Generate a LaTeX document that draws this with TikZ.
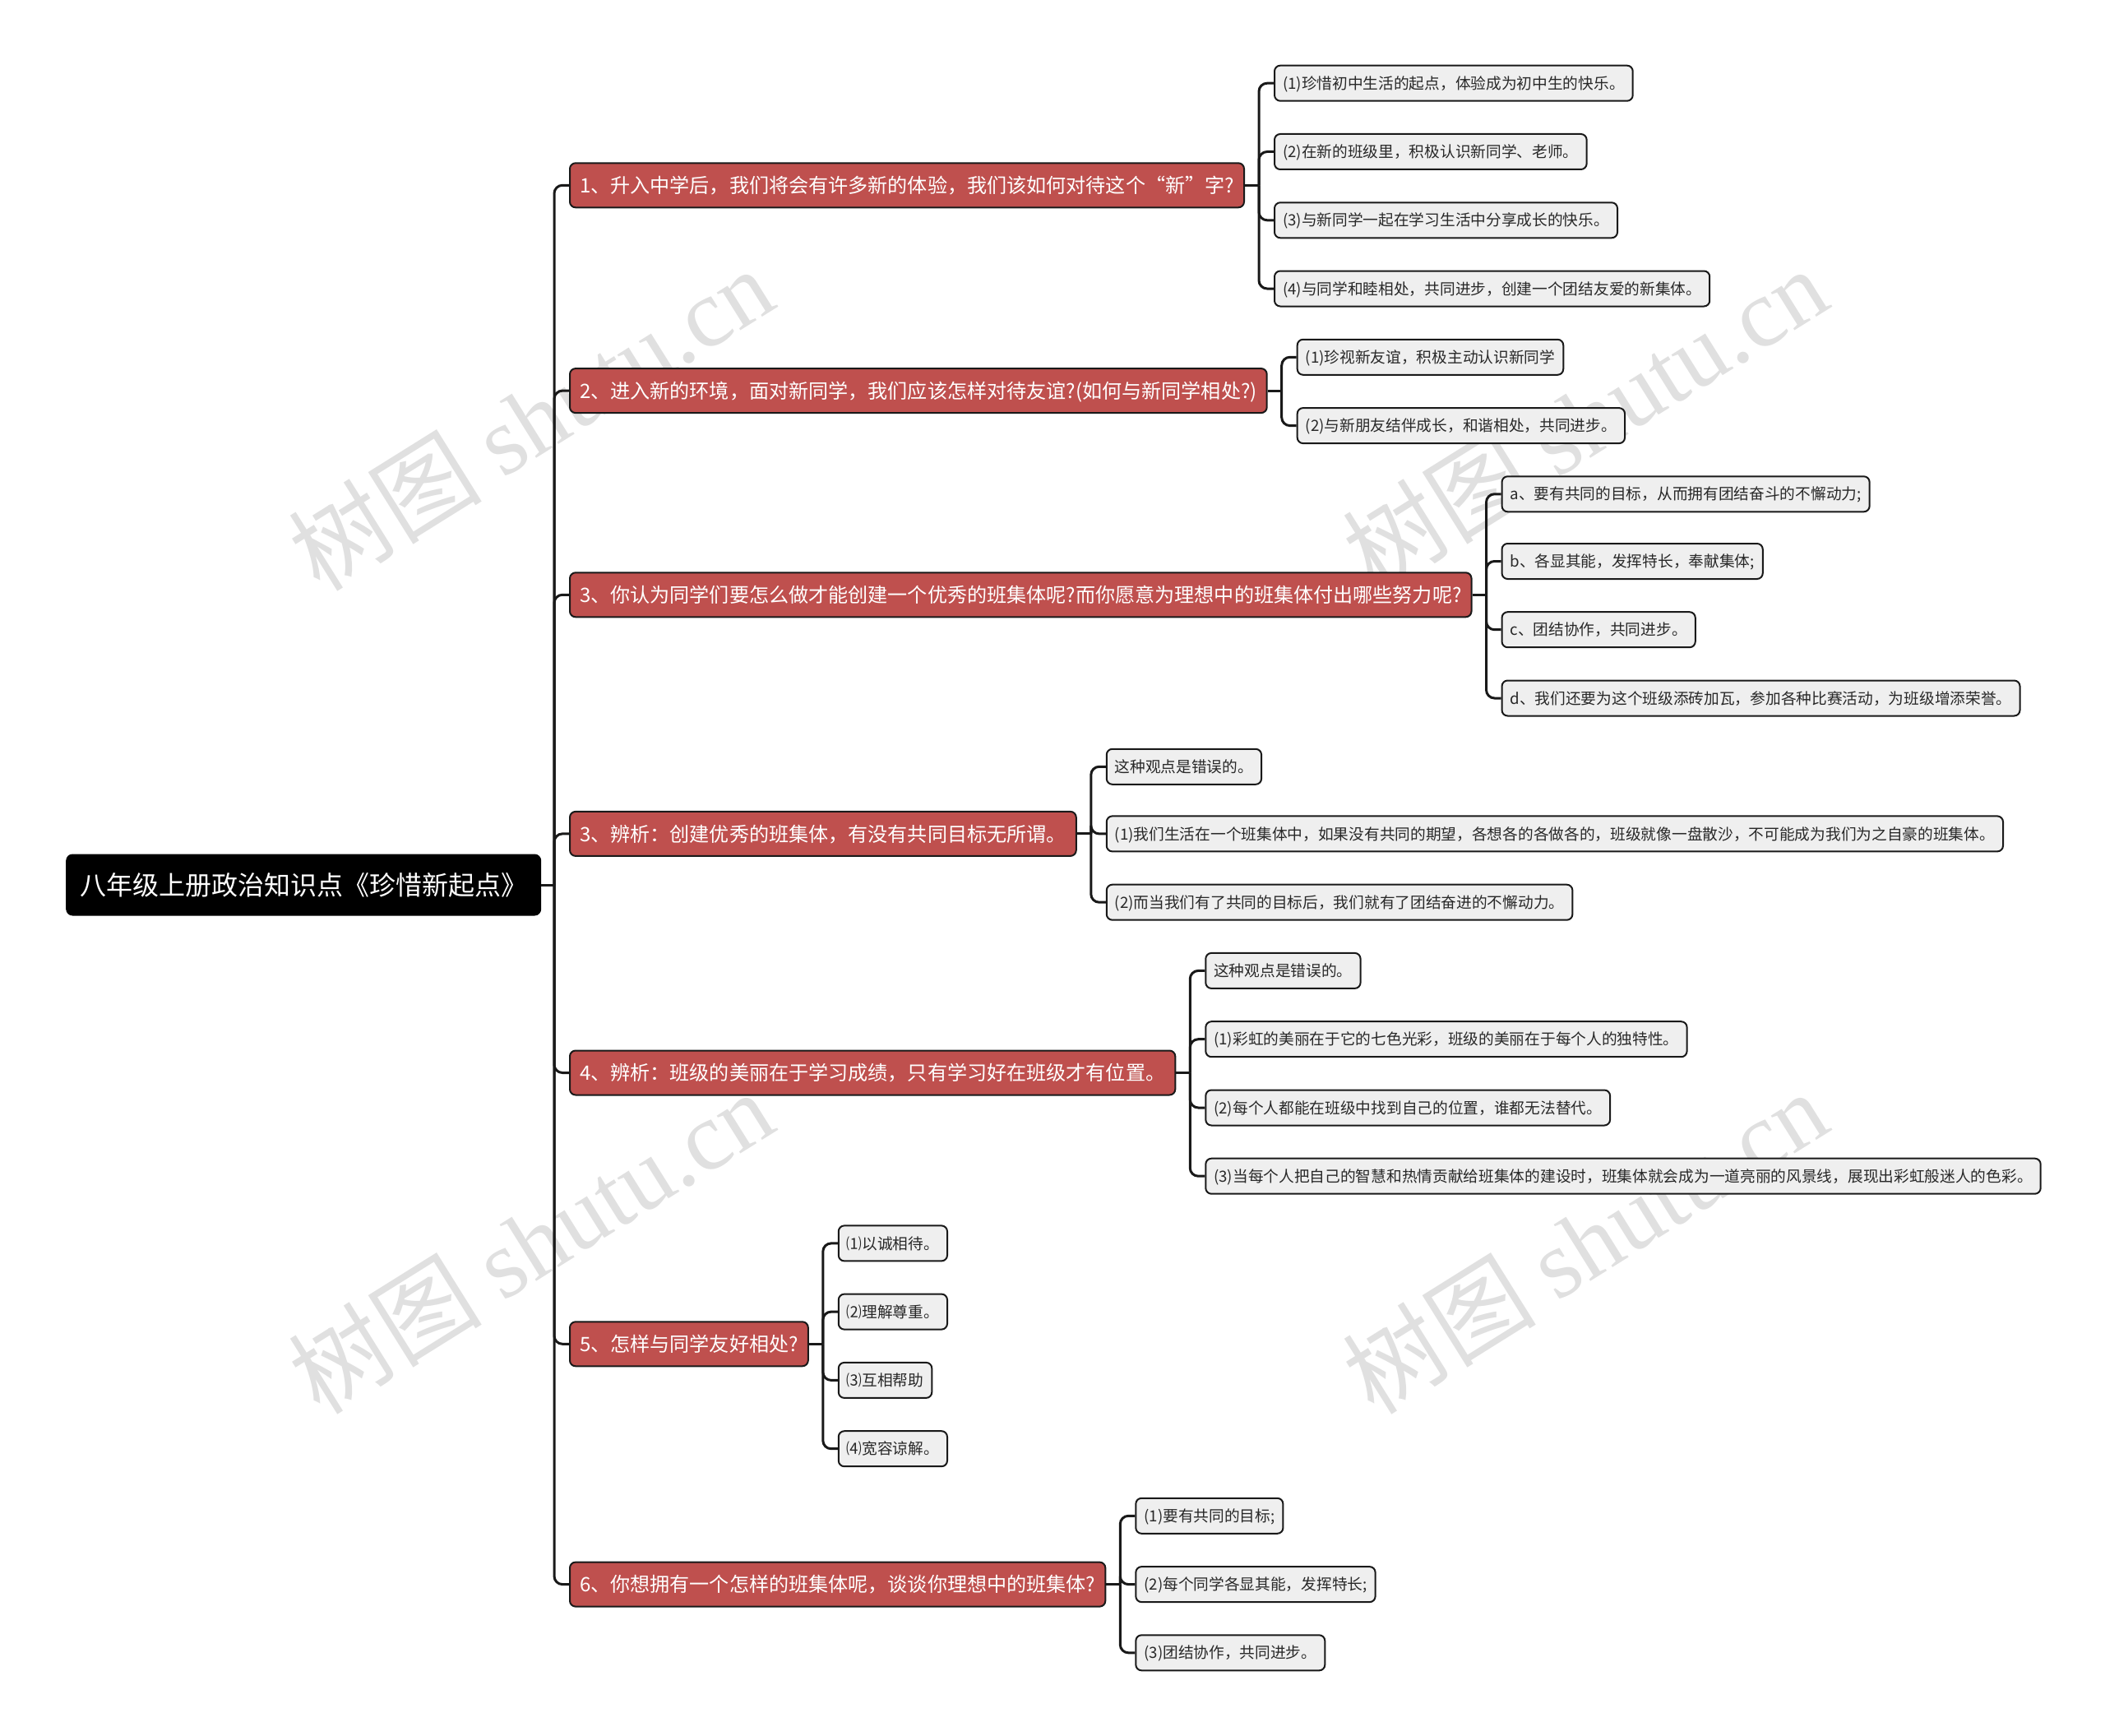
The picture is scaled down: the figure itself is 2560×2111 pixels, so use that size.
\documentclass[tikz,border=0pt]{standalone}
\usepackage{fontspec}
\setmainfont{Noto Sans CJK SC}
\newfontfamily\wmserif{Liberation Serif}
\usetikzlibrary{calc}
\definecolor{lvred}{RGB}{191,80,78}
\definecolor{lvgray}{RGB}{239,239,239}
\definecolor{lvtext}{RGB}{40,40,40}
\definecolor{lvline}{RGB}{25,25,25}
\definecolor{wmgray}{RGB}{224,224,224}
\newcommand\kidnode[4]{%
  \path let \p1=(#2.east) in node[lvtwo] (#1) at (\x1+35pt,-#3pt) {#4};}
\begin{document}
\begin{tikzpicture}[x=1pt,y=-1pt,
  rootbox/.style={fill=black, rounded corners=8pt, text=white, anchor=west,
    font=\fontsize{32pt}{36pt}\selectfont, inner xsep=17pt, inner ysep=0pt,
    minimum height=75pt, text height=26.5pt, text depth=2.2pt},
  lvone/.style={fill=lvred, draw=lvline, line width=2pt, rounded corners=7pt,
    text=white, anchor=west, font=\fontsize{24.1pt}{28pt}\selectfont,
    inner xsep=12pt, inner ysep=0pt, minimum height=54pt,
    text height=20pt, text depth=1.7pt},
  lvtwo/.style={fill=lvgray, draw=lvline, line width=2pt, rounded corners=7pt,
    text=lvtext, anchor=west, font=\fontsize{18.7pt}{22pt}\selectfont,
    inner xsep=10pt, inner ysep=0pt, minimum height=43pt,
    text height=15.5pt, text depth=1.3pt},
  link/.style={line width=3pt, draw=lvline, rounded corners=10pt},
  wm/.style={rotate=32, text=wmgray, font=\fontsize{118pt}{118pt}\selectfont}]
\useasboundingbox (0,0) rectangle (2560,2111);

% watermarks
\node[wm] (wm1) at (645,509) {树图 {\wmserif shutu.cn}};
\node[wm] (wm2) at (1927,509) {树图 {\wmserif shutu.cn}};
\node[wm] (wm3) at (645,1510) {树图 {\wmserif shutu.cn}};
\node[wm] (wm4) at (1927,1510) {树图 {\wmserif shutu.cn}};

% root
\node[rootbox] (root) at (80,1076) {八年级上册政治知识点《珍惜新起点》};
\coordinate (tr) at (674,1076);

% level one
\node[lvone] (n1) at (692,225.3) {1、升入中学后，我们将会有许多新的体验，我们该如何对待这个“新”字?};
\node[lvone] (n2) at (692,475.1) {2、进入新的环境，面对新同学，我们应该怎样对待友谊?(如何与新同学相处?)};
\node[lvone] (n3) at (692,723.3) {3、你认为同学们要怎么做才能创建一个优秀的班集体呢?而你愿意为理想中的班集体付出哪些努力呢?};
\node[lvone] (n4) at (692,1013.9) {3、辨析：创建优秀的班集体，有没有共同目标无所谓。};
\node[lvone] (n5) at (692,1304.5) {4、辨析：班级的美丽在于学习成绩，只有学习好在班级才有位置。};
\node[lvone] (n6) at (692,1634.3) {5、怎样与同学友好相处?};
\node[lvone] (n7) at (692,1926.6) {6、你想拥有一个怎样的班集体呢，谈谈你理想中的班集体?};

\draw[link] (root.east) -- (tr);
\foreach \n in {n1,n2,n3,n4,n5,n6,n7} \draw[link] (tr) |- (\n.west);

% level two
\kidnode{n1a}{n1}{101.2}{(1)珍惜初中生活的起点，体验成为初中生的快乐。}
\kidnode{n1b}{n1}{184.5}{(2)在新的班级里，积极认识新同学、老师。}
\kidnode{n1c}{n1}{267.8}{(3)与新同学一起在学习生活中分享成长的快乐。}
\kidnode{n1d}{n1}{351.0}{(4)与同学和睦相处，共同进步，创建一个团结友爱的新集体。}

\kidnode{n2a}{n2}{434.3}{(1)珍视新友谊，积极主动认识新同学}
\kidnode{n2b}{n2}{517.6}{(2)与新朋友结伴成长，和谐相处，共同进步。}

\kidnode{n3a}{n3}{600.8}{a、要有共同的目标，从而拥有团结奋斗的不懈动力;}
\kidnode{n3b}{n3}{682.5}{b、各显其能，发挥特长，奉献集体;}
\kidnode{n3c}{n3}{765.7}{c、团结协作，共同进步。}
\kidnode{n3d}{n3}{849.0}{d、我们还要为这个班级添砖加瓦，参加各种比赛活动，为班级增添荣誉。}

\kidnode{n4a}{n4}{932.3}{这种观点是错误的。}
\kidnode{n4b}{n4}{1013.9}{(1)我们生活在一个班集体中，如果没有共同的期望，各想各的各做各的，班级就像一盘散沙，不可能成为我们为之自豪的班集体。}
\kidnode{n4c}{n4}{1097.2}{(2)而当我们有了共同的目标后，我们就有了团结奋进的不懈动力。}

\kidnode{n5a}{n5}{1180.4}{这种观点是错误的。}
\kidnode{n5b}{n5}{1263.7}{(1)彩虹的美丽在于它的七色光彩，班级的美丽在于每个人的独特性。}
\kidnode{n5c}{n5}{1347.0}{(2)每个人都能在班级中找到自己的位置，谁都无法替代。}
\kidnode{n5d}{n5}{1430.2}{(3)当每个人把自己的智慧和热情贡献给班集体的建设时，班集体就会成为一道亮丽的风景线，展现出彩虹般迷人的色彩。}

\kidnode{n6a}{n6}{1511.9}{⑴以诚相待。}
\kidnode{n6b}{n6}{1595.1}{⑵理解尊重。}
\kidnode{n6c}{n6}{1678.4}{⑶互相帮助}
\kidnode{n6d}{n6}{1761.7}{⑷宽容谅解。}

\kidnode{n7a}{n7}{1843.3}{(1)要有共同的目标;}
\kidnode{n7b}{n7}{1926.6}{(2)每个同学各显其能，发挥特长;}
\kidnode{n7c}{n7}{2009.8}{(3)团结协作，共同进步。}

% connectors
\draw[link] (n1.east) -- ++(17,0) coordinate (j1);
\foreach \c in {n1a,n1b,n1c,n1d} \draw[link] (j1) |- (\c.west);
\draw[link] (n2.east) -- ++(17,0) coordinate (j2);
\foreach \c in {n2a,n2b} \draw[link] (j2) |- (\c.west);
\draw[link] (n3.east) -- ++(17,0) coordinate (j3);
\foreach \c in {n3a,n3b,n3c,n3d} \draw[link] (j3) |- (\c.west);
\draw[link] (n4.east) -- ++(17,0) coordinate (j4);
\foreach \c in {n4a,n4b,n4c} \draw[link] (j4) |- (\c.west);
\draw[link] (n5.east) -- ++(17,0) coordinate (j5);
\foreach \c in {n5a,n5b,n5c,n5d} \draw[link] (j5) |- (\c.west);
\draw[link] (n6.east) -- ++(17,0) coordinate (j6);
\foreach \c in {n6a,n6b,n6c,n6d} \draw[link] (j6) |- (\c.west);
\draw[link] (n7.east) -- ++(17,0) coordinate (j7);
\foreach \c in {n7a,n7b,n7c} \draw[link] (j7) |- (\c.west);
\end{tikzpicture}
\end{document}
